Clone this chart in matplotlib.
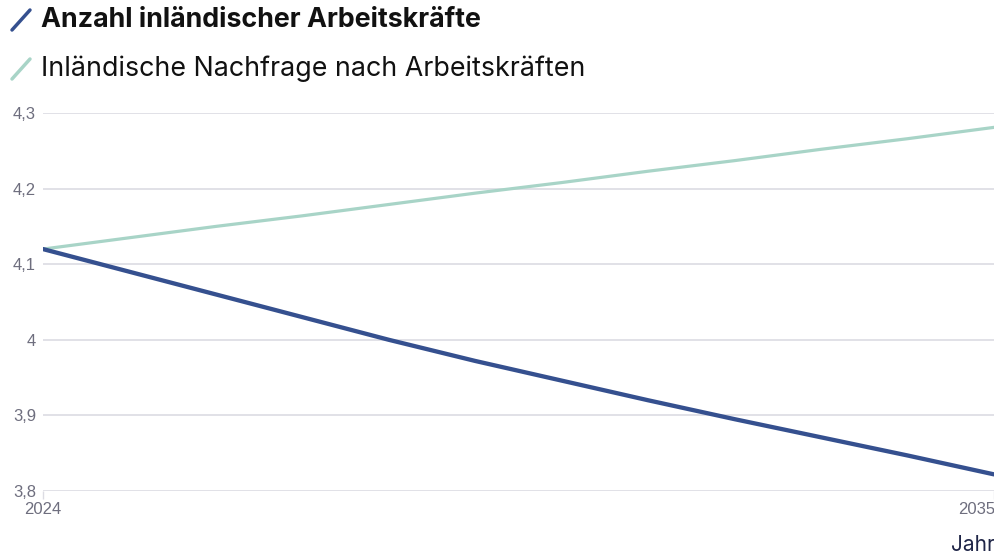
import matplotlib.pyplot as plt
import matplotlib.transforms as mtransforms
from matplotlib.lines import Line2D

# Data (millions of workers)
years = [2024, 2025, 2026, 2027, 2028, 2029, 2030, 2031, 2032, 2033, 2034, 2035]
supply = [4.12, 4.09, 4.06, 4.03, 4.00, 3.972, 3.946, 3.92, 3.895, 3.871, 3.847, 3.822]
demand = [4.12, 4.135, 4.15, 4.164, 4.179, 4.194, 4.208, 4.223, 4.237, 4.252, 4.266, 4.281]

y_ticks = [3.8, 3.9, 4.0, 4.1, 4.2, 4.3]
y_labels = ["3,8", "3,9", "4", "4,1", "4,2", "4,3"]
x_ticks = [2024, 2035]

series_names = ["Anzahl inländischer Arbeitskräfte",
                "Inländische Nachfrage nach Arbeitskräften"]
blue = "#35508f"
green = "#a8d4c7"
grid_col = "#dcdce3"
tick_col = "#6e6e7e"
W, H = 994, 557

fig = plt.figure(figsize=(W / 100, H / 100), dpi=100)
ax = fig.add_axes([43 / W, 1 - 491 / H, 1 - 43 / W, (491 - 113) / H])

ax.plot(years, demand, color=green, lw=2.3, solid_capstyle="round", zorder=3)
ax.plot(years, supply, color=blue, lw=3.1, solid_capstyle="round", zorder=4)

ax.set_xlim(2024, 2035)
ax.set_ylim(3.8, 4.3)
ax.set_yticks(y_ticks)
ax.set_yticklabels(y_labels, fontfamily="Liberation Sans", fontsize=12, color=tick_col)
ax.set_xticks(x_ticks)
ax.set_xticklabels([str(x) for x in x_ticks], fontfamily="Liberation Sans", fontsize=12, color=tick_col)
ax.tick_params(axis="y", length=0, pad=5)
ax.tick_params(axis="x", length=6, width=1, color=grid_col, pad=2)
ax.set_axisbelow(True)
ax.grid(axis="y", color=grid_col, lw=1.2)
for s in ax.spines.values():
    s.set_visible(False)

# shift the last year label left a bit, like the reference
lbl = ax.get_xticklabels()[-1]
lbl.set_transform(lbl.get_transform() + mtransforms.ScaledTranslation(-0.175, 0, fig.dpi_scale_trans))

fig.text(1.0 + 1 / W, 1 - 545 / H, "Jahr", ha="right", va="center",
         fontfamily="Inter", fontsize=15, color="#1f2547")

# legend
legend_y = [20, 69]
colors = [blue, green]
weights = ["bold", "normal"]
for name, yy, c, w in zip(series_names, legend_y, colors, weights):
    fig.add_artist(Line2D([12 / W, 30 / W], [1 - (yy + 10) / H, 1 - (yy - 10) / H],
                          transform=fig.transFigure, color=c, lw=2.5, solid_capstyle="round"))
    fig.text(41 / W, 1 - yy / H, name, ha="left", va="center",
             fontfamily="Inter", fontsize=19.3, fontweight=w, color="#111111")

fig.savefig("out.png", dpi=100)
